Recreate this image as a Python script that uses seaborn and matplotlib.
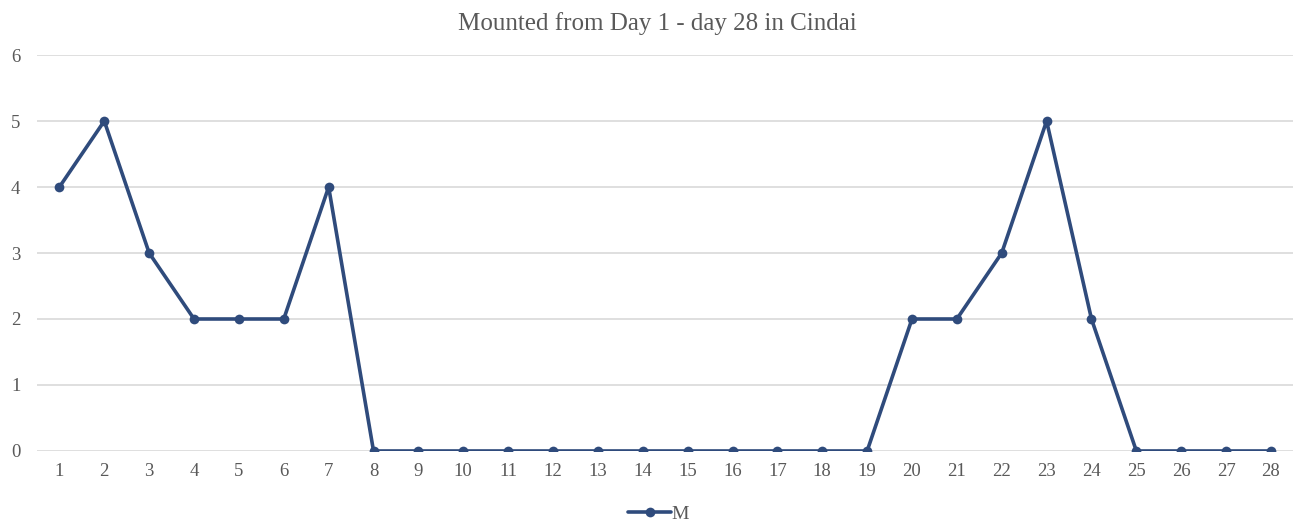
import matplotlib
matplotlib.use("Agg")
import matplotlib.pyplot as plt
import seaborn as sns
import pandas as pd

days = list(range(1, 29))
mounted = [4, 5, 3, 2, 2, 2, 4, 0, 0, 0, 0, 0, 0, 0, 0, 0, 0, 0, 0, 2, 2, 3, 5, 2, 0, 0, 0, 0]
series_name = "M"
title = "Mounted from Day 1 - day 28 in Cindai"

sns.set_theme(style="white")
plt.rcParams['font.family'] = ['Liberation Serif', 'DejaVu Serif']

df = pd.DataFrame({"Day": days, series_name: mounted})

fig = plt.figure(figsize=(13.02, 5.23), dpi=100)
ax = fig.add_axes([0.0284, 0.1377, 0.9650, 0.7571])

color = "#2F4B7C"
sns.lineplot(data=df, x="Day", y=series_name, ax=ax, color=color, linewidth=2.6,
             marker="o", markersize=7, markeredgewidth=0, label=series_name)

ax.set_xlim(0.5, 28.5)
ax.set_ylim(0, 6)
ax.set_xticks(days)
ax.set_xticklabels([str(d) for d in days])
ax.set_yticks(range(0, 7))
ax.yaxis.grid(True, color="#D9D9D9", linewidth=1.2)
ax.xaxis.grid(False)
ax.set_axisbelow(True)
for s in ax.spines.values():
    s.set_visible(False)
ax.tick_params(axis='both', length=0, labelsize=13.5, labelcolor="#595959")
ax.tick_params(axis='x', pad=9)
ax.tick_params(axis='y', pad=12)
ax.set_xlabel("")
ax.set_ylabel("")
ax.set_title(title, fontsize=18, color="#595959", pad=18, x=0.4935)

leg = ax.legend(loc="lower center", bbox_to_anchor=(0.4945, -0.225), frameon=False,
                fontsize=14, handlelength=2.2, handletextpad=0.0, labelcolor="#595959")

fig.savefig("out.png", dpi=100)
